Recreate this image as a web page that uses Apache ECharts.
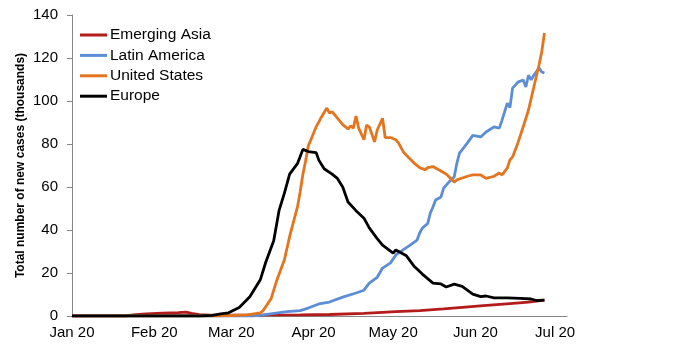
<!DOCTYPE html>
<html>
<head>
<meta charset="utf-8">
<script src="https://cdn.jsdelivr.net/npm/echarts@6/dist/echarts.min.js"></script>
<style>
html,body{margin:0;padding:0;background:#fff;}
#chart{width:680px;height:360px;}
</style>
</head>
<body>
<div id="chart"></div>
<script>
// Day index counted from 1 Jan 2020
const tickDays = [0, 31, 60, 91, 121, 152, 182];
const tickLabels = ["Jan 20", "Feb 20", "Mar 20", "Apr 20", "May 20", "Jun 20", "Jul 20"];
const seriesNames = ["Emerging Asia", "Latin America", "United States", "Europe"];

const asiaDays   = [0, 20, 24, 28, 34, 40, 43, 45, 48, 52, 86, 97, 110, 122, 131, 140, 147, 155, 165, 172, 178];
const asiaValues = [0, 0, 0.6, 1, 1.3, 1.6, 1.8, 1.2, 0.6, 0.4, 0.5, 0.7, 1.2, 2, 2.5, 3.3, 4, 4.8, 5.8, 6.5, 7.4];

const latamDays   = [0, 68, 72, 81, 86, 89, 93, 97, 102, 107, 110, 112, 115, 117, 120, 122, 125, 127, 130, 131, 132, 134, 135, 136, 137, 139, 140, 142, 144, 145, 146, 149, 151, 154, 156, 159, 161, 162, 164, 165, 166, 168, 170, 171, 172, 173, 174, 176, 177, 178];
const latamValues = [0, 0, 0.5, 2, 2.5, 3.7, 5.6, 6.5, 8.8, 10.7, 12, 15.3, 18, 22.3, 24.7, 28.4, 31, 32.6, 35.3, 38.6, 40.9, 43, 47.9, 50.7, 54, 55.3, 59.5, 62.3, 64.7, 71, 75.8, 80.5, 84, 83.3, 85.6, 88, 87.4, 91, 99, 97, 106, 108.8, 109.8, 106.5, 112, 109.8, 112, 115.3, 113.5, 113];

const usDays   = [0, 55, 66, 71, 72, 75, 77, 80, 82, 85, 86, 87, 88, 89, 90, 91, 92, 94, 96, 97, 98, 100, 102, 104, 105, 106, 107, 108, 110, 111, 112, 114, 115, 117, 118, 120, 122, 123, 125, 127, 129, 131, 133, 134, 136, 139, 141, 144, 145, 149, 151, 154, 156, 159, 161, 162, 164, 165, 166, 168, 170, 172, 174, 176, 177, 178];
const usValues = [0, 0, 0.5, 1.5, 2.5, 8, 16, 26, 37, 51, 58, 66, 72, 79, 82, 85, 88, 92.6, 96.7, 94.4, 95, 92, 89, 87, 88.4, 87.4, 93, 87.4, 82, 88.8, 88, 81, 86.5, 92, 83, 83, 82, 80.5, 76, 73.5, 71, 69, 68, 69, 69.5, 67.4, 66, 62.3, 63.3, 65, 65.6, 65.6, 64, 65, 66.5, 65.6, 68.8, 72.6, 74, 80.5, 88, 95.8, 106.5, 117, 123, 131.6];

const europeDays   = [0, 48, 53, 56, 59, 63, 67, 71, 73, 76, 78, 80, 82, 85, 87, 89, 92, 93, 95, 98, 100, 102, 104, 107, 110, 112, 115, 117, 121, 122, 126, 129, 132, 136, 139, 141, 144, 147, 151, 154, 156, 159, 164, 169, 173, 175, 178];
const europeValues = [0, 0, 0.3, 1, 1.5, 4, 9, 17, 25, 35, 49, 57, 66, 71, 77.5, 76.5, 76, 72.5, 68.5, 66, 64, 60, 53, 49, 45.5, 41, 36, 33, 29.3, 30.7, 28, 23, 19.5, 15.3, 14.9, 13.5, 14.8, 13.8, 10.2, 9, 9.3, 8.4, 8.4, 8.2, 7.9, 7.2, 7.4];

const colors = ["#B41B1B", "#5B8ED6", "#E5741E", "#000000"];

function zip(days, vals) { return days.map((d, i) => [d, vals[i]]); }
const allData = [zip(asiaDays, asiaValues), zip(latamDays, latamValues), zip(usDays, usValues), zip(europeDays, europeValues)];

const chart = echarts.init(document.getElementById('chart'), null, {renderer: 'canvas'});
const font = "'Liberation Sans', Arial, sans-serif";
chart.setOption({
  animation: false,
  backgroundColor: '#ffffff',
  grid: {left: 70, right: 113, top: 15, bottom: 44, containLabel: false},
  legend: {
    orient: 'vertical', left: 80, top: 27, padding: 0,
    icon: 'rect', itemWidth: 27, itemHeight: 3, itemGap: 4.4,
    textStyle: {fontFamily: font, fontSize: 15.5, color: '#000', lineHeight: 16, padding: [0, 0, 0, -2]},
    data: seriesNames
  },
  xAxis: {
    type: 'value', min: -0.75, max: 186.5,
    splitLine: {show: false},
    axisLine: {show: true, lineStyle: {color: '#868686', width: 1}},
    axisTick: {show: false},
    axisLabel: {
      customValues: tickDays,
      margin: 9,
      fontFamily: font, fontSize: 15, color: '#000',
      formatter: function (v) { const i = tickDays.indexOf(v); return i >= 0 ? tickLabels[i] : ''; }
    }
  },
  yAxis: {
    type: 'value', min: 0, max: 140, interval: 20,
    name: 'Total number of new cases (thousands)',
    nameLocation: 'middle', nameGap: 43, nameMoveOverlap: false,
    nameTextStyle: {fontFamily: font, fontSize: 12, fontWeight: 'bold', color: '#000'},
    splitLine: {show: false},
    axisLine: {show: true, lineStyle: {color: '#868686', width: 1}},
    axisTick: {show: true, inside: false, length: 5, lineStyle: {color: '#868686'}},
    axisLabel: {margin: 12, fontFamily: font, fontSize: 15, color: '#000'}
  },
  series: seriesNames.map((n, i) => ({
    name: n, type: 'line', data: allData[i],
    showSymbol: false, symbol: 'none', smooth: false,
    lineStyle: {color: colors[i], width: 2.8},
    itemStyle: {color: colors[i]},
    z: 2 + i
  }))
});
</script>
</body>
</html>
